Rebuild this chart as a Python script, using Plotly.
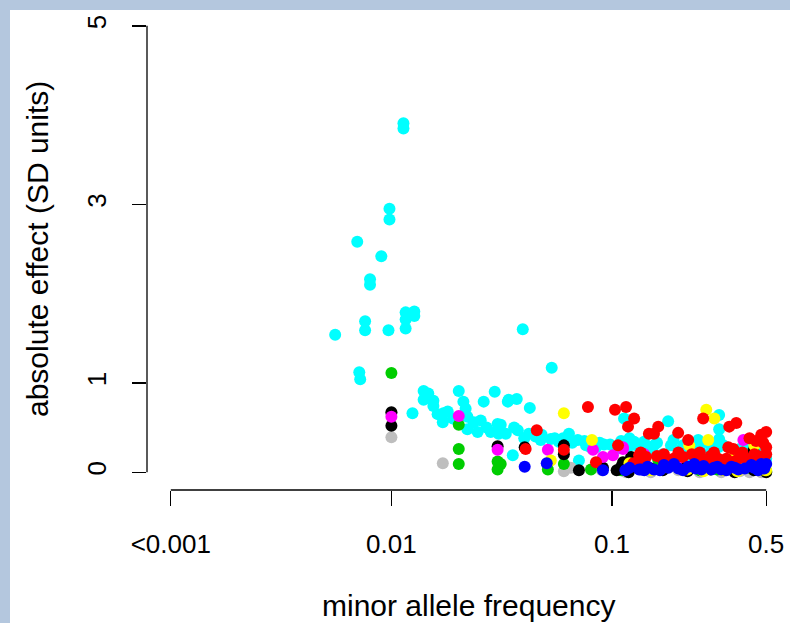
import math
import plotly.graph_objects as go

# ---------------- data (minor allele frequency, absolute effect in SD units) ----------------
cyan_x = [0.00556, 0.0070, 0.00715, 0.00722, 0.0076, 0.0076, 0.0080, 0.0080, 0.0090, 0.0097,
          0.0098, 0.0098, 0.01134, 0.01134, 0.0116, 0.0127, 0.0116, 0.0127, 0.0116,
          0.0140, 0.0140, 0.01246, 0.0147, 0.0155, 0.0155, 0.0162, 0.0172, 0.0171, 0.0202,
          0.0212, 0.0217, 0.0221, 0.0221, 0.0236, 0.0254, 0.0246, 0.0262, 0.0294, 0.0303,
          0.0282, 0.0306, 0.0337, 0.0340, 0.0370, 0.0424, 0.0313, 0.0330, 0.0374, 0.0420,
          0.0475, 0.0528, 0.0574, 0.0638, 0.070, 0.0762, 0.0846, 0.092, 0.1134, 0.126,
          0.0355, 0.0708, 0.0394, 0.0533, 0.1797, 0.306, 0.306, 0.306, 0.303, 0.246,
          0.1285, 0.1397, 0.155, 0.185, 0.206, 0.415, 0.060, 0.066, 0.080, 0.098, 0.105,
          0.118, 0.145, 0.17, 0.23, 0.27, 0.35, 0.45, 0.50,
          0.11, 0.12, 0.135, 0.16, 0.19, 0.21, 0.25, 0.28, 0.32, 0.38, 0.42, 0.47,
          0.048, 0.055, 0.075, 0.088, 0.045, 0.040, 0.036, 0.027, 0.019, 0.018]
cyan_y = [1.54, 2.58, 1.12, 1.04, 1.69, 1.59, 2.16, 2.10, 2.42, 1.59,
          2.95, 2.83, 3.91, 3.85, 1.79, 1.80, 1.71, 1.75, 1.61,
          0.91, 0.81, 0.66, 0.88, 0.80, 0.74, 0.65, 0.66, 0.56, 0.91,
          0.79, 0.71, 0.62, 0.48, 0.56, 0.58, 0.45, 0.79, 0.90, 0.54,
          0.45, 0.43, 0.79, 0.81, 0.82, 0.72, 0.53, 0.43, 0.47, 0.43,
          0.36, 0.37, 0.34, 0.43, 0.36, 0.30, 0.28, 0.31, 0.60, 0.34,
          0.19, 0.13, 1.60, 1.17, 0.57, 0.64, 0.48, 0.37, 0.28, 0.36,
          0.30, 0.34, 0.30, 0.30, 0.25, 0.28, 0.38, 0.33, 0.28, 0.31, 0.26,
          0.28, 0.24, 0.20, 0.18, 0.20, 0.25, 0.22, 0.15,
          0.35, 0.38, 0.30, 0.33, 0.36, 0.30, 0.28, 0.31, 0.30, 0.26, 0.33, 0.28,
          0.42, 0.38, 0.35, 0.33, 0.40, 0.38, 0.50, 0.50, 0.60, 0.68]

gray_x = [0.01, 0.01, 0.0171, 0.0605, 0.065, 0.1158, 0.313, 0.475, 0.2, 0.38, 0.09,
          0.15, 0.25, 0.42]
gray_y = [0.66, 0.39, 0.10, 0.01, 0.05, 0.0, 0.0, 0.0, 0.02, 0.01, 0.02,
          0.0, 0.0, 0.0]

green_x = [0.01, 0.0202, 0.0202, 0.0202, 0.0303, 0.0303, 0.0313, 0.0512, 0.0605, 0.0803,
           0.162, 0.241, 0.13, 0.2, 0.3, 0.42, 0.11, 0.17, 0.25, 0.36, 0.5]
green_y = [1.11, 0.53, 0.26, 0.09, 0.12, 0.03, 0.09, 0.03, 0.09, 0.03,
           0.14, 0.11, 0.08, 0.06, 0.03, 0.05, 0.02, 0.04, 0.02, 0.04, 0.01]

black_x = [0.01, 0.01, 0.0303, 0.0402, 0.0605, 0.0605, 0.0708, 0.091, 0.1122, 0.119,
           0.122, 0.110, 0.4375, 0.491, 0.50, 0.13, 0.15, 0.25, 0.33, 0.40, 0.47, 0.2, 0.28,
           0.17, 0.22, 0.36, 0.44, 0.105]
black_y = [0.67, 0.52, 0.29, 0.28, 0.30, 0.20, 0.02, 0.05, 0.11, 0.0,
           0.17, 0.06, 0.24, 0.02, 0.0, 0.05, 0.04, 0.08, 0.06, 0.10, 0.08, 0.10, 0.03,
           0.02, 0.01, 0.0, 0.02, 0.02]

magenta_x = [0.01, 0.0202, 0.0303, 0.0512, 0.082, 0.091, 0.101, 0.1122, 0.112, 0.394,
             0.254, 0.14, 0.18, 0.2, 0.3, 0.35, 0.45]
magenta_y = [0.62, 0.63, 0.25, 0.25, 0.25, 0.17, 0.19, 0.26, 0.28, 0.36,
             0.11, 0.20, 0.12, 0.15, 0.12, 0.20, 0.15]

yellow_x = [0.0605, 0.0811, 0.0528, 0.2675, 0.291, 0.273, 0.224, 0.442, 0.3585,
            0.15, 0.22, 0.32, 0.48, 0.12, 0.40, 0.17, 0.26, 0.37, 0.5]
yellow_y = [0.66, 0.36, 0.13, 0.70, 0.60, 0.36, 0.30, 0.30, 0.23,
            0.02, 0.03, 0.02, 0.03, 0.10, 0.05, 0.05, 0.01, 0.01, 0.02]

red_x = [0.0456, 0.0406, 0.0605, 0.0778, 0.1032, 0.1158, 0.126, 0.1182, 0.1065, 0.147,
         0.0846, 0.155, 0.162, 0.1995, 0.2215, 0.259, 0.340, 0.366, 0.420, 0.475,
         0.50, 0.3367, 0.355, 0.442, 0.491, 0.1327, 0.1427, 0.172, 0.210, 0.276,
         0.303, 0.330, 0.374, 0.406, 0.172, 0.23, 0.25, 0.28, 0.19, 0.24,
         0.45, 0.50, 0.485,
         0.14, 0.16, 0.18, 0.2, 0.26, 0.29, 0.31, 0.36, 0.39, 0.43, 0.46, 0.5, 0.125, 0.135]
red_y = [0.47, 0.26, 0.25, 0.73, 0.70, 0.73, 0.60, 0.51, 0.30, 0.43,
         0.11, 0.43, 0.51, 0.44, 0.36, 0.60, 0.51, 0.55, 0.38, 0.42,
         0.28, 0.28, 0.26, 0.20, 0.13, 0.19, 0.17, 0.20, 0.17, 0.15,
         0.15, 0.15, 0.15, 0.15, 0.11, 0.20, 0.22, 0.18, 0.15, 0.14,
         0.35, 0.45, 0.33,
         0.12, 0.18, 0.10, 0.22, 0.12, 0.22, 0.10, 0.12, 0.22, 0.10, 0.18, 0.20, 0.10, 0.22]

blue_x = [0.0506, 0.0402, 0.091, 0.1327, 0.1355, 0.155, 0.172, 0.191, 0.2215, 0.236,
          0.254, 0.282, 0.313, 0.3475, 0.374, 0.4285, 0.475, 0.50, 0.12, 0.145,
          0.2, 0.3, 0.4, 0.46, 0.26, 0.165,
          0.14, 0.18, 0.21, 0.24, 0.29, 0.33, 0.36, 0.44, 0.49, 0.115]
blue_y = [0.10, 0.06, 0.02, 0.03, 0.03, 0.03, 0.08, 0.09, 0.06, 0.09,
          0.03, 0.03, 0.03, 0.06, 0.03, 0.08, 0.09, 0.09, 0.05, 0.06,
          0.04, 0.06, 0.04, 0.02, 0.07, 0.02,
          0.02, 0.05, 0.02, 0.04, 0.05, 0.02, 0.05, 0.05, 0.04, 0.02]

x_tick_vals = [0.001, 0.01, 0.1, 0.5]
x_tick_text = ["<0.001", "0.01", "0.1", "0.5"]
y_tick_vals = [0, 1, 3, 5]
y_tick_text = ["0", "1", "3", "5"]

# ---------------- figure ----------------
FONT = "Liberation Sans, Arial, Helvetica, sans-serif"
FRAME = "#b4c7de"
W, H = 790, 623
ML, MR, MT, MB = 147, 0, 8, 133
pw, ph = W - ML - MR, H - MT - MB

series = [
    (cyan_x, cyan_y, "#00FFFF"),
    (gray_x, gray_y, "#BEBEBE"),
    (green_x, green_y, "#00CD00"),
    (black_x, black_y, "#000000"),
    (magenta_x, magenta_y, "#FF00FF"),
    (yellow_x, yellow_y, "#FFFF00"),
    (red_x, red_y, "#FF0000"),
    (blue_x, blue_y, "#0000FF"),
]

fig = go.Figure()
for xs, ys, col in series:
    fig.add_trace(go.Scatter(x=xs, y=ys, mode="markers",
                             marker=dict(color=col, size=12, line=dict(width=0)),
                             cliponaxis=False, hoverinfo="skip", showlegend=False))

# axis ranges like R (4% extension)
lx0, lx1 = math.log10(0.001), math.log10(0.5)
ext = 0.04 * (lx1 - lx0)
xr = [lx0 - ext, lx1 + ext]
yr = [-0.2, 5.2]

def xpaper(v):
    return (math.log10(v) - xr[0]) / (xr[1] - xr[0])

def ypaper(v):
    return (v - yr[0]) / (yr[1] - yr[0])

shapes = [
    # white panel over the light-blue frame
    dict(type="rect", xref="paper", yref="paper",
         x0=(10 - ML) / pw, x1=1.05, y0=-0.35, y1=(ph + MT - 10) / ph,
         fillcolor="white", line=dict(width=0), layer="below"),
    # R-style axis lines spanning first to last tick
    dict(type="line", xref="paper", yref="paper", x0=0, x1=0,
         y0=ypaper(0), y1=ypaper(5), line=dict(color="black", width=1.3)),
    dict(type="line", xref="paper", yref="paper", x0=xpaper(0.001), x1=xpaper(0.5),
         y0=0, y1=0, line=dict(color="black", width=1.3)),
]

annotations = [
    dict(text="minor allele frequency", xref="paper", yref="paper",
         x=0.5, y=(ph - (605 - MT)) / ph, xanchor="center", yanchor="middle",
         showarrow=False, font=dict(family=FONT, size=30, color="black")),
    dict(text="absolute effect (SD units)", xref="paper", yref="paper",
         x=(37 - ML) / pw, y=0.5, xanchor="center", yanchor="middle", textangle=-90,
         showarrow=False, font=dict(family=FONT, size=30, color="black")),
]

fig.update_layout(
    width=W, height=H,
    margin=dict(l=ML, r=MR, t=MT, b=MB, pad=0),
    paper_bgcolor=FRAME,
    plot_bgcolor="rgba(0,0,0,0)",
    shapes=shapes,
    annotations=annotations,
    font=dict(family=FONT, size=26, color="black"),
    xaxis=dict(type="log", range=xr, showgrid=False, zeroline=False, showline=False,
               tickmode="array", tickvals=x_tick_vals, ticktext=x_tick_text,
               ticks="outside", ticklen=15, tickwidth=1.3, tickcolor="black",
               ticklabelstandoff=16, tickfont=dict(family=FONT, size=26, color="black")),
    yaxis=dict(range=yr, showgrid=False, zeroline=False, showline=False,
               tickmode="array", tickvals=y_tick_vals, ticktext=y_tick_text,
               ticks="outside", ticklen=14, tickwidth=1.3, tickcolor="black",
               tickangle=-90, ticklabelstandoff=16,
               tickfont=dict(family=FONT, size=26, color="black")),
)

fig.write_html(
    "out.html",
    config={"displayModeBar": False, "staticPlot": True},
    post_script="document.body.style.margin='0px';document.body.style.padding='0px';"
                "document.body.style.overflow='hidden';document.body.style.background='" + FRAME + "';",
)
